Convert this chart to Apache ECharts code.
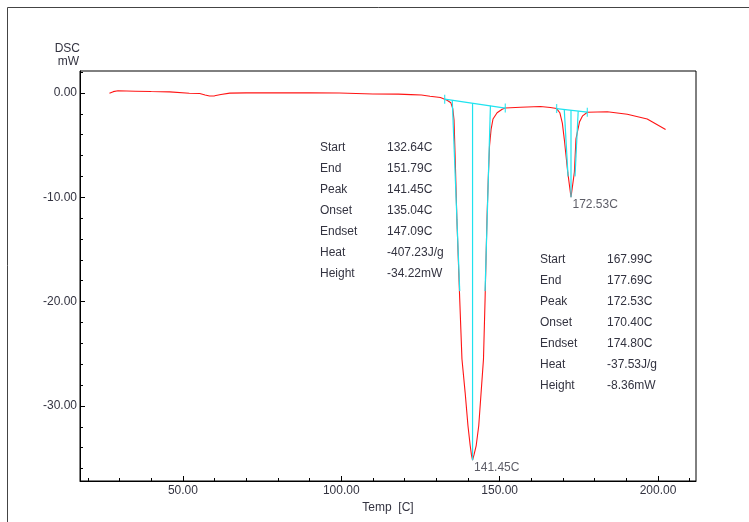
<!DOCTYPE html>
<html><head><meta charset="utf-8">
<script src="https://cdn.jsdelivr.net/npm/echarts@6/dist/echarts.min.js"></script>
<style>html,body{margin:0;padding:0;background:#fff}#c{width:749px;height:522px}</style>
</head><body><div id="c"></div>
<script>
// ---- data ----
const tempC = [26.8,28.0,29.5,35,40,45.8,46.4,52,55.3,57,58.4,60,62,64.8,70,80,90,99.4,99.8,110,118,122,125.3,128,131.3,132.64,133.4,134.6,135.2,135.6,136.0,136.5,137.4,138.1,139.1,140.0,140.7,141.1,141.45,141.9,142.6,143.4,144.9,145.4,146.0,146.4,146.8,147.3,147.9,149.2,150.8,151.79,152.3,156.6,162.9,166,167.99,169.0,169.8,170.4,171.5,172.53,173.6,174.1,175.2,176.2,177.69,178.2,184,190.3,196.6,202.4];
const dscMW = [-0.03,0.12,0.2,0.16,0.13,0.1,-0.02,-0.03,-0.06,-0.2,-0.3,-0.28,-0.15,-0.02,0.0,0.0,0.0,-0.01,-0.1,-0.1,-0.12,-0.16,-0.2,-0.32,-0.44,-0.6,-0.7,-0.95,-1.5,-2.6,-6.6,-12.1,-19.8,-25.5,-28.7,-31.9,-33.8,-34.7,-35.2,-34.7,-33.8,-31.9,-25.5,-19.8,-12.1,-8.3,-5.1,-3.5,-2.5,-1.9,-1.56,-1.45,-1.4,-1.38,-1.3,-1.4,-1.5,-1.9,-2.9,-4.4,-7.6,-10.0,-7.6,-4.4,-2.8,-2.2,-1.85,-1.82,-1.8,-2.05,-2.5,-3.5];

// analysis overlays (cyan): baseline, onset/endset tangents, peak drop lines
const baseline1 = [[132.64,-0.6],[151.79,-1.45]];
const onset1    = [[135.04,-0.71],[137.4,-19.0]];
const endset1   = [[147.09,-1.24],[145.4,-19.0]];
const peakLine1 = [[141.45,-0.99],[141.45,-35.2]];
const baseline2 = [[167.99,-1.5],[177.69,-1.85]];
const onset2    = [[170.40,-1.59],[171.6,-8.0]];
const endset2   = [[174.80,-1.75],[173.8,-8.0]];
const peakLine2 = [[172.53,-1.66],[172.53,-10.0]];
const endTicks  = [[132.64,-0.6],[151.79,-1.45],[167.99,-1.5],[177.69,-1.85]];
const peakMarks = [[141.45,-35.2],[172.53,-10.0]];

// axis ticks
const xMajor = [50,100,150,200];
const xMinor = [20,30,40,50,60,70,80,90,100,110,120,130,140,150,160,170,180,190,200,210];
const yMajor = [0,-10,-20,-30];
const yMinor = [2,0,-2,-4,-6,-8,-10,-12,-14,-16,-18,-20,-22,-24,-26,-28,-30,-32,-34,-36];

// result tables
const infoLabels = ['Start','End','Peak','Onset','Endset','Heat','Height'];
const peak1Info = ['132.64C','151.79C','141.45C','135.04C','147.09C','-407.23J/g','-34.22mW'];
const peak2Info = ['167.99C','177.69C','172.53C','170.40C','174.80C','-37.53J/g','-8.36mW'];

// ---- chart ----
const FONT = "'Liberation Sans', Arial, sans-serif";
const TXT = '#333340';
const CYAN = '#1fe3ef';
const RED = '#ff1414';

const curve = tempC.map((t,i)=>[t,dscMW[i]]);
const cyanSegs = [baseline1,onset1,endset1,peakLine1,baseline2,onset2,endset2,peakLine2];

const graphics = [
  {type:'rect', shape:{x:7.5,y:7.5,width:800,height:600}, style:{fill:'none',stroke:'#444',lineWidth:1}, silent:true},
  {type:'text', x:80, y:49, style:{text:'DSC', fill:TXT, font:'12px '+FONT, align:'right', verticalAlign:'middle'}},
  {type:'text', x:79, y:62, style:{text:'mW', fill:TXT, font:'12px '+FONT, align:'right', verticalAlign:'middle'}}
];
function addTable(x1, x2, y0, vals){
  infoLabels.forEach((l,i)=>{
    graphics.push({type:'text', x:x1, y:y0+21*i, style:{text:l, fill:TXT, font:'12px '+FONT, verticalAlign:'middle'}});
    graphics.push({type:'text', x:x2, y:y0+21*i, style:{text:vals[i], fill:TXT, font:'12px '+FONT, verticalAlign:'middle'}});
  });
}
addTable(320, 387, 148, peak1Info);
addTable(540, 607, 260, peak2Info);

const xBase = {type:'value', gridIndex:0, min:17.5, max:212, position:'bottom', splitLine:{show:false}};
const yBase = {type:'value', gridIndex:0, min:-37.2, max:2.1, position:'left', splitLine:{show:false}};

const option = {
  animation:false,
  backgroundColor:'#fff',
  grid:{left:80, top:71, width:616, height:410, show:true, borderColor:'#000', borderWidth:1, backgroundColor:'transparent'},
  xAxis:[
    Object.assign({}, xBase, {
      name:'Temp  [C]', nameLocation:'middle', nameGap:17,
      nameTextStyle:{color:TXT, fontSize:12, fontFamily:FONT, verticalAlign:'top'},
      axisLine:{show:true, onZero:false, lineStyle:{color:'#000', width:1}},
      axisTick:{show:true, inside:true, length:3, customValues:xMinor, lineStyle:{color:'#000'}},
      axisLabel:{show:true, customValues:xMajor, margin:4, color:TXT, fontSize:12, fontFamily:FONT, formatter:v=>v.toFixed(2)}
    }),
    Object.assign({}, xBase, {
      axisLine:{show:false, onZero:false},
      axisTick:{show:true, inside:true, length:5, customValues:xMajor, lineStyle:{color:'#000'}},
      axisLabel:{show:false}
    })
  ],
  yAxis:[
    Object.assign({}, yBase, {
      axisLine:{show:true, onZero:false, lineStyle:{color:'#000', width:1}},
      axisTick:{show:true, inside:true, length:3, customValues:yMinor, lineStyle:{color:'#000'}},
      axisLabel:{show:true, customValues:yMajor, margin:3, color:TXT, fontSize:12, fontFamily:FONT, formatter:v=>v.toFixed(2)}
    }),
    Object.assign({}, yBase, {
      axisLine:{show:false, onZero:false},
      axisTick:{show:true, inside:true, length:5, customValues:yMajor, lineStyle:{color:'#000'}},
      axisLabel:{show:false}
    })
  ],
  series:[
    {type:'line', xAxisIndex:0, yAxisIndex:0, data:curve, showSymbol:false, symbol:'none', smooth:false,
     lineStyle:{color:RED, width:1.1}, z:2}
  ].concat(cyanSegs.map(seg=>({
     type:'line', xAxisIndex:0, yAxisIndex:0, data:seg, showSymbol:false, symbol:'none',
     lineStyle:{color:CYAN, width:1.2}, z:3
  }))).concat([
    {type:'scatter', xAxisIndex:0, yAxisIndex:0, data:endTicks, symbol:'rect', symbolSize:[1.3,9],
     itemStyle:{color:CYAN}, z:4},
    {type:'scatter', xAxisIndex:0, yAxisIndex:0, data:peakMarks, symbolSize:1, itemStyle:{color:'rgba(0,0,0,0)'}, z:5,
     label:{show:true, position:[2,2], align:'left', verticalAlign:'top', color:TXT, fontSize:12, fontFamily:FONT,
       formatter:p=>p.value[0].toFixed(2)+'C'}}
  ]),
  graphic:graphics
};
const chart = echarts.init(document.getElementById('c'), null, {renderer:'canvas'});
chart.setOption(option);
</script>
</body></html>
